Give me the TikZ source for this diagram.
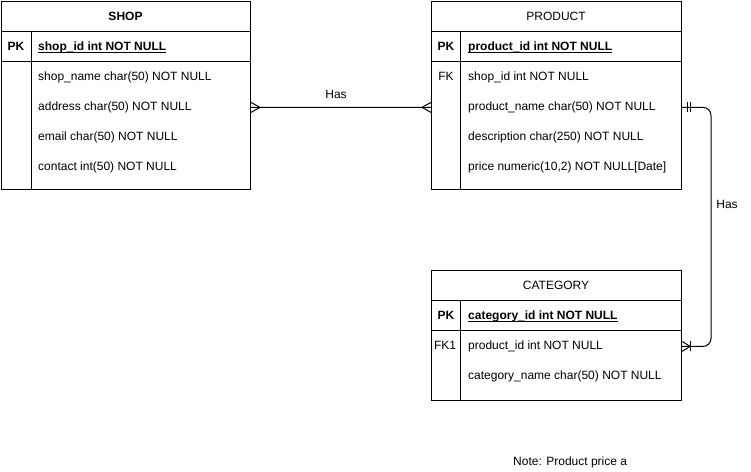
\documentclass[tikz,border=0pt]{standalone}
\usepackage{fontspec}
\setmainfont{Liberation Sans}
\begin{document}
\begin{tikzpicture}[x=1pt,y=-1pt,
  ent/.style={draw,line width=1pt,minimum width=249pt,anchor=north west,inner sep=0pt},
  rule/.style={line width=1pt},
  fld/.style={anchor=base west,inner sep=0pt,font=\fontsize{12}{14}\selectfont},
  key/.style={anchor=base,inner sep=0pt,font=\fontsize{12}{14}\selectfont},
  ttl/.style={anchor=base,inner sep=0pt,font=\fontsize{12}{14}\selectfont},
  conn/.style={line width=1pt},
  uline/.style={line width=0.8pt}]
\useasboundingbox (0,0) rectangle (751,471);

% ---------- SHOP ----------
\node[ent,minimum height=188pt] (shop) at (1,1) {};
\draw[rule] ([yshift=-30pt]shop.north west) -- ([yshift=-30pt]shop.north east);
\draw[rule] ([yshift=-60pt]shop.north west) -- ([yshift=-60pt]shop.north east);
\draw[rule] ([xshift=30pt,yshift=-30pt]shop.north west) -- ([xshift=30pt]shop.south west);
\node[ttl] (shopT) at (125.5,20.5) {\bfseries SHOP};
\node[key] (shopPK) at (16,50.5) {\bfseries PK};
\node[fld] (shopId) at (38,50.5) {\bfseries shop\_id int NOT NULL};
\draw[uline] ([yshift=-1.8pt]shopId.base west) -- ([yshift=-1.8pt]shopId.base east);
\node[fld] (shopName) at (38,80.5) {shop\_name char(50) NOT NULL};
\node[fld] (shopAddr) at (38,110.5) {address char(50) NOT NULL};
\node[fld] (shopMail) at (38,140.5) {email char(50) NOT NULL};
\node[fld] (shopCont) at (38,170.5) {contact int(50) NOT NULL};

% ---------- PRODUCT ----------
\node[ent,minimum height=188pt,minimum width=250pt] (prod) at (431,1) {};
\draw[rule] ([yshift=-30pt]prod.north west) -- ([yshift=-30pt]prod.north east);
\draw[rule] ([yshift=-60pt]prod.north west) -- ([yshift=-60pt]prod.north east);
\draw[rule] ([xshift=29pt,yshift=-30pt]prod.north west) -- ([xshift=29pt]prod.south west);
\node[ttl] (prodT) at (556,20.5) {PRODUCT};
\node[key] (prodPK) at (446,50.5) {\bfseries PK};
\node[fld] (prodId) at (468,50.5) {\bfseries product\_id int NOT NULL};
\draw[uline] ([yshift=-1.8pt]prodId.base west) -- ([yshift=-1.8pt]prodId.base east);
\node[key] (prodFK) at (446,80.5) {FK};
\node[fld] (prodShop) at (468,80.5) {shop\_id int NOT NULL};
\node[fld] (prodName) at (468,110.5) {product\_name char(50) NOT NULL};
\node[fld] (prodDesc) at (468,140.5) {description char(250) NOT NULL};
\node[fld] (prodPrice) at (468,170.5) {price numeric(10,2) NOT NULL[Date]};

% ---------- CATEGORY ----------
\node[ent,minimum height=130pt,minimum width=250pt] (cat) at (431,270) {};
\draw[rule] ([yshift=-30pt]cat.north west) -- ([yshift=-30pt]cat.north east);
\draw[rule] ([yshift=-60pt]cat.north west) -- ([yshift=-60pt]cat.north east);
\draw[rule] ([xshift=29pt,yshift=-30pt]cat.north west) -- ([xshift=29pt]cat.south west);
\node[ttl] (catT) at (556,289.5) {CATEGORY};
\node[key] (catPK) at (446,319.5) {\bfseries PK};
\node[fld] (catId) at (468,319.5) {\bfseries category\_id int NOT NULL};
\draw[uline] ([yshift=-1.8pt]catId.base west) -- ([yshift=-1.8pt]catId.base east);
\node[key] (catFK) at (445,349.5) {FK1};
\node[fld] (catProd) at (468,349.5) {product\_id int NOT NULL};
\node[fld] (catName) at (468,379.5) {category\_name char(50) NOT NULL};

% ---------- connectors ----------
\coordinate (a1) at (shop.east |- shopAddr.center);
\coordinate (a2) at (prod.west |- prodName.center);
\draw[conn] (a1) -- (a2);
% crow's foot at SHOP
\draw[conn] ([yshift=5pt]a1) -- ([xshift=9pt]a1) -- ([yshift=-5pt]a1);
% crow's foot at PRODUCT
\draw[conn] ([yshift=5pt]a2) -- ([xshift=-9pt]a2) -- ([yshift=-5pt]a2);
\node[ttl] (has1) at (336,98) {Has};

\coordinate (b1) at (prod.east |- prodName.center);
\coordinate (b2) at (cat.east |- catProd.center);
\draw[conn,rounded corners=8pt] (b1) -- ++(29,0) |- (b2);
% mandatory one at PRODUCT
\draw[conn] ([xshift=5pt,yshift=5pt]b1) -- ([xshift=5pt,yshift=-5pt]b1);
\draw[conn] ([xshift=8pt,yshift=5pt]b1) -- ([xshift=8pt,yshift=-5pt]b1);
% one-or-many at CATEGORY
\draw[conn] ([yshift=5pt]b2) -- ([xshift=8pt]b2) -- ([yshift=-5pt]b2);
\draw[conn] ([xshift=8pt,yshift=5pt]b2) -- ([xshift=8pt,yshift=-5pt]b2);
\node[ttl] (has2) at (727,208.5) {Has};

% ---------- note ----------
\node[fld] (note) at (513,465) {Note: Product price a};
\end{tikzpicture}
\end{document}
